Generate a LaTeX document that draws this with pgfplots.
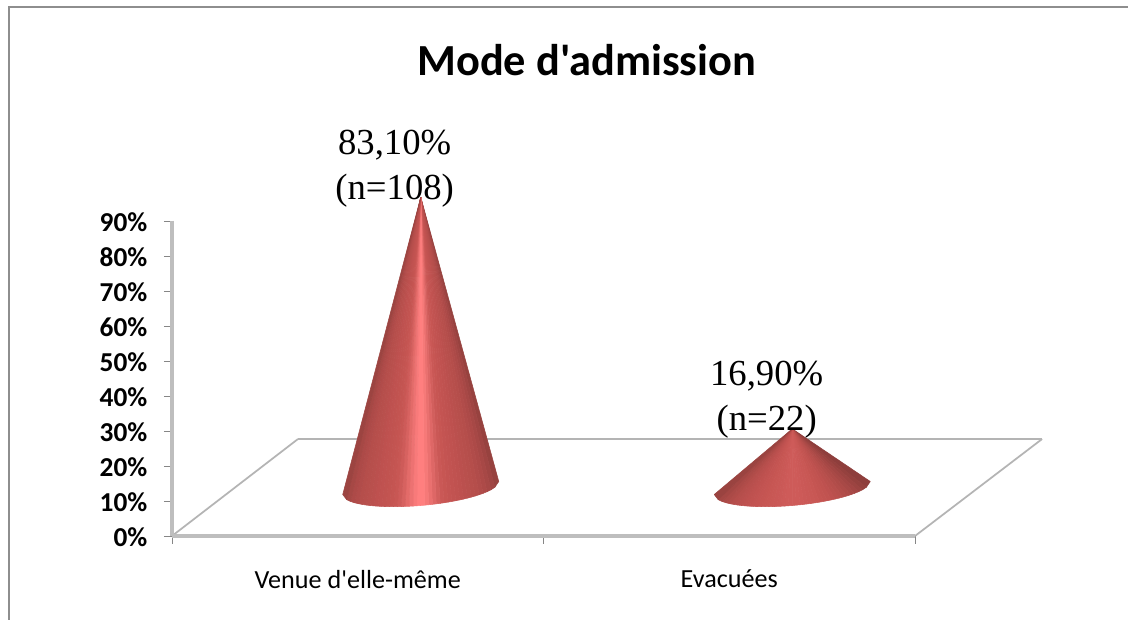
\begin{filecontents*}[overwrite]{slicesvenue.dat}
0 1 41 0.10
1 2 41 0.18
2 3 41 0.24
3 4 41 0.29
4 5 41 0.33
5 6 41 0.36
6 7 41 0.38
7 8 41 0.40
8 9 41 0.42
9 10 41 0.44
10 11 41 0.46
11 12 41 0.48
12 13 41 0.50
13 14 41 0.52
14 15 41 0.55
15 16 41 0.62
16 17 41 0.72
17 18 41 0.82
18 19 41 0.92
19 20 41 1.00
20 21 41 1.00
21 22 41 0.94
22 23 41 0.85
23 24 41 0.76
24 25 41 0.66
25 26 41 0.58
26 27 41 0.53
27 28 41 0.51
28 29 41 0.49
29 30 41 0.47
30 31 41 0.46
31 32 41 0.44
32 33 41 0.42
33 34 41 0.40
34 35 41 0.38
35 36 41 0.36
36 37 41 0.33
37 38 41 0.29
38 39 41 0.23
39 40 41 0.14
\end{filecontents*}
\begin{filecontents*}[overwrite]{slicesevac.dat}
0 1 41 0.02
1 2 41 0.08
2 3 41 0.14
3 4 41 0.20
4 5 41 0.25
5 6 41 0.30
6 7 41 0.34
7 8 41 0.38
8 9 41 0.41
9 10 41 0.44
10 11 41 0.47
11 12 41 0.49
12 13 41 0.51
13 14 41 0.53
14 15 41 0.54
15 16 41 0.55
16 17 41 0.56
17 18 41 0.57
18 19 41 0.58
19 20 41 0.58
20 21 41 0.58
21 22 41 0.58
22 23 41 0.57
23 24 41 0.56
24 25 41 0.55
25 26 41 0.54
26 27 41 0.53
27 28 41 0.52
28 29 41 0.51
29 30 41 0.50
30 31 41 0.48
31 32 41 0.46
32 33 41 0.44
33 34 41 0.42
34 35 41 0.39
35 36 41 0.36
36 37 41 0.32
37 38 41 0.27
38 39 41 0.21
39 40 41 0.12
\end{filecontents*}
\documentclass[border=0pt]{standalone}
\usepackage{fontspec}
\setmainfont{Carlito}[Ligatures=TeXOff]
\newfontfamily\labelserif{Liberation Serif}
\usepackage{pgfplots}
\usepackage{pgfplotstable}
\pgfplotsset{compat=1.18}
\definecolor{framegray}{HTML}{8E8E8E}
\definecolor{wallgray}{HTML}{BEBEBE}
\definecolor{floorgray}{HTML}{B4B4B4}
\definecolor{tickgray}{HTML}{868686}
% Cone surfaces: front half of the base ellipse, then the apex (last row)
\pgfplotstableread{
x y
0.7100 1.857
0.6995 0.204
0.6890 -0.509
0.6785 -1.057
0.6680 -1.514
0.6575 -1.912
0.6470 -2.270
0.6365 -2.593
0.6260 -2.886
0.6155 -3.154
0.6050 -3.401
0.5945 -3.629
0.5840 -3.842
0.5735 -4.035
0.5630 -4.213
0.5525 -4.376
0.5420 -4.529
0.5315 -4.666
0.5210 -4.789
0.5105 -4.902
0.5000 -5.000
0.4895 -5.088
0.4790 -5.161
0.4685 -5.224
0.4580 -5.271
0.4475 -5.304
0.4370 -5.327
0.4265 -5.335
0.4160 -5.328
0.4055 -5.301
0.3950 -5.259
0.3845 -5.196
0.3740 -5.114
0.3635 -5.007
0.3530 -4.870
0.3425 -4.698
0.3320 -4.486
0.3215 -4.213
0.3110 -3.851
0.3005 -3.324
0.2900 -1.857
0.5000 83.1
}\conevenue
\pgfplotstableread{
x y
1.7100 1.857
1.6995 0.204
1.6890 -0.509
1.6785 -1.057
1.6680 -1.514
1.6575 -1.912
1.6470 -2.270
1.6365 -2.593
1.6260 -2.886
1.6155 -3.154
1.6050 -3.401
1.5945 -3.629
1.5840 -3.842
1.5735 -4.035
1.5630 -4.213
1.5525 -4.376
1.5420 -4.529
1.5315 -4.666
1.5210 -4.789
1.5105 -4.902
1.5000 -5.000
1.4895 -5.088
1.4790 -5.161
1.4685 -5.224
1.4580 -5.271
1.4475 -5.304
1.4370 -5.327
1.4265 -5.335
1.4160 -5.328
1.4055 -5.301
1.3950 -5.259
1.3845 -5.196
1.3740 -5.114
1.3635 -5.007
1.3530 -4.870
1.3425 -4.698
1.3320 -4.486
1.3215 -4.213
1.3110 -3.851
1.3005 -3.324
1.2900 -1.857
1.5000 16.9
}\coneevac
\begin{document}
\begin{tikzpicture}
\path[use as bounding box, fill=white] (0,0) rectangle (846pt,465pt);
% Chart frame, open on the right and at the bottom
\draw[framegray, line width=1.2pt] (6.75pt,0) -- (6.75pt,459.75pt) -- (846pt,459.75pt);
\node[font=\bfseries\fontsize{33.3}{38}\selectfont, anchor=center] at (440pt,420pt) {Mode d\symbol{39}admission};
\begin{axis}[
  at={(129pt,63pt)}, anchor=south west,
  scale only axis, width=557.25pt, height=236.25pt,
  xmin=0, xmax=2, ymin=0, ymax=90,
  clip=false,
  axis x line*=bottom, axis y line*=left,
  axis line style={draw=none, -},
  xtick={0,1,2},
  x tick label as interval,
  xticklabels={Venue d\symbol{39}elle-même,Evacuées},
  x tick style={draw=tickgray, line width=0.7pt},
  x tick label style={font=\fontsize{19.6}{23}\selectfont, yshift=-16pt},
  ytick={0,10,...,90},
  yticklabels={0\%,10\%,20\%,30\%,40\%,50\%,60\%,70\%,80\%,90\%},
  y tick label style={font=\bfseries\fontsize{20.5}{24}\selectfont, xshift=-9pt, yshift=-1pt},
  y tick style={draw=tickgray, line width=0.7pt},
  tick align=outside, major tick length=6pt,
  colormap={conered}{rgb=(0.55,0.24,0.23) rgb=(0.77,0.33,0.32) rgb=(1,0.5,0.5)},
  point meta min=0, point meta max=1,
]
% Wall edge and floor of the depth box
\addplot[draw=floorgray, line width=1.3pt, mark=none] coordinates {(0,0) (0.339,27.7)};
\addplot[draw=floorgray, line width=1.8pt, mark=none] coordinates {(0.339,27.7) (2.342,27.7)};
\addplot[draw=floorgray, line width=1.3pt, mark=none] coordinates {(2.342,27.7) (2,0)};
\addplot[draw=wallgray, line width=2.4pt, mark=none] coordinates {(0,90) (0,0)};
\addplot[draw=wallgray, line width=2.4pt, mark=none] coordinates {(0,0) (2,0)};
% Cones standing at mid-depth of the floor; slices hold two base points, the apex and a tone
\addplot[patch, shader=flat, xshift=47.25pt, yshift=36pt, patch table with point meta={slicesvenue.dat}] table {\conevenue};
\addplot[patch, shader=flat, xshift=47.25pt, yshift=36pt, patch table with point meta={slicesevac.dat}] table {\coneevac};
\end{axis}
% Value labels
\node[font=\labelserif\fontsize{27.5}{33.5}\selectfont, align=center] at (296pt,338.5pt) {83,10\%\\(n=108)};
\node[font=\labelserif\fontsize{27.5}{33.5}\selectfont, align=center] at (575pt,165pt) {16,90\%\\(n=22)};
\end{tikzpicture}
\end{document}
